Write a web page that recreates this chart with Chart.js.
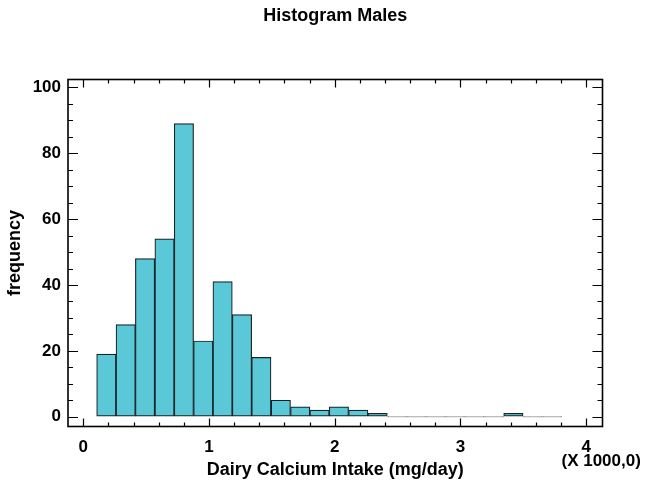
<!DOCTYPE html>
<html>
<head>
<meta charset="utf-8">
<script src="https://cdn.jsdelivr.net/npm/chart.js@4/dist/chart.umd.min.js"></script>
<style>
  html, body { margin: 0; padding: 0; background: #ffffff; }
  #wrap { position: relative; width: 647px; height: 486px; }
</style>
</head>
<body>
<div id="wrap"><canvas id="c"></canvas></div>
<script>
// ---- data ----
const binCenters = [0.183, 0.337, 0.491, 0.646, 0.800, 0.954, 1.108, 1.262, 1.416, 1.571, 1.725, 1.879,
                    2.033, 2.187, 2.341, 2.496, 2.650, 2.804, 2.958, 3.112, 3.266, 3.421, 3.575, 3.729];
const frequencies = [19, 28, 48, 54, 89, 23, 41, 31, 18, 5, 3, 2,
                     3, 2, 1, 0, 0, 0, 0, 0, 0, 1, 0, 0];
const xTickValues = [0, 1, 2, 3, 4];
const yTickValues = [0, 20, 40, 60, 80, 100];
const xMinorStep = 0.2;
const yMinorStep = 5;

const titleText = 'Histogram Males';
const xTitle = 'Dairy Calcium Intake (mg/day)';
const yTitle = 'frequency';
const xScaleNote = '(X 1000,0)';

const FONT = "'Liberation Sans', Arial, Helvetica, sans-serif";

const frame = {
  id: 'frame',
  afterDatasetsDraw(chart) {
    const { ctx, chartArea: a, scales: { x, y } } = chart;
    ctx.save();
    ctx.strokeStyle = '#000';
    ctx.lineWidth = 1.2;
    ctx.beginPath();
    for (let v = 0; v <= 4.0001; v += xMinorStep) {
      const r = Math.round(v * 10) / 10;
      const major = Math.abs(r - Math.round(r)) < 1e-6;
      const len = major ? 8 : 4;
      const px = Math.round(x.getPixelForValue(r)) + 0.5;
      ctx.moveTo(px, a.bottom); ctx.lineTo(px, a.bottom - len);
      ctx.moveTo(px, a.top); ctx.lineTo(px, a.top + len);
    }
    for (let v = 0; v <= 100; v += yMinorStep) {
      const major = v % 20 === 0;
      const len = major ? 10 : 5;
      const py = Math.round(y.getPixelForValue(v)) + 0.5;
      ctx.moveTo(a.left, py); ctx.lineTo(a.left + len, py);
      ctx.moveTo(a.right, py); ctx.lineTo(a.right - len, py);
    }
    ctx.stroke();
    ctx.lineWidth = 1.6;
    ctx.strokeRect(a.left, a.top, a.right - a.left, a.bottom - a.top);
    ctx.fillStyle = '#000';
    ctx.font = "bold 17px " + FONT;
    ctx.textAlign = 'center';
    ctx.textBaseline = 'middle';
    ctx.fillText(xScaleNote, x.getPixelForValue(4) + 15, 461);
    ctx.restore();
  }
};

new Chart(document.getElementById('c'), {
  type: 'bar',
  data: {
    datasets: [{
      data: binCenters.map((c, i) => ({ x: c, y: frequencies[i] })),
      backgroundColor: (c) => (c.raw && c.raw.y === 0 ? '#a8a8a8' : '#5bc8d7'),
      borderColor: (c) => (c.raw && c.raw.y === 0 ? '#a8a8a8' : '#1a2426'),
      borderWidth: 1.2,
      borderSkipped: false,
      minBarLength: 1,
      barPercentage: 1.0,
      categoryPercentage: 1.0
    }]
  },
  options: {
    responsive: true,
    maintainAspectRatio: false,
    animation: false,
    layout: { padding: { left: 0, right: 44.5, top: 0, bottom: 0 } },
    plugins: {
      legend: { display: false },
      tooltip: { enabled: false },
      title: {
        display: true,
        text: titleText,
        fullSize: false,
        color: '#000',
        font: { family: FONT, size: 18, weight: 'bold', lineHeight: 1.2 },
        padding: { top: 5.2, bottom: 52.7 }
      }
    },
    scales: {
      x: {
        type: 'linear',
        min: -0.122,
        max: 4.13,
        offset: false,
        afterBuildTicks: (s) => { s.ticks = xTickValues.map(v => ({ value: v })); },
        afterFit: (s) => { s.height = 59.5; },
        grid: { drawOnChartArea: false, drawTicks: true, tickLength: 7, tickColor: 'rgba(0,0,0,0)' },
        border: { display: false },
        ticks: {
          color: '#000', padding: 3.3, autoSkip: false, maxRotation: 0,
          font: { family: FONT, size: 17, weight: 'bold', lineHeight: 1.2 },
          callback: (v) => String(v)
        },
        title: {
          display: true, text: xTitle, color: '#000',
          font: { family: FONT, size: 18, weight: 'bold', lineHeight: 1.2 },
          padding: { top: 0, bottom: 4.7 }
        }
      },
      y: {
        min: -2.97,
        max: 102.4,
        afterBuildTicks: (s) => { s.ticks = yTickValues.map(v => ({ value: v })); },
        afterFit: (s) => { s.width = 68; },
        grid: { drawOnChartArea: false, drawTicks: true, tickLength: 4, tickColor: 'rgba(0,0,0,0)' },
        border: { display: false },
        ticks: {
          color: '#000', padding: 3, autoSkip: false,
          font: { family: FONT, size: 17, weight: 'bold', lineHeight: 1.2 },
          callback: (v) => String(v)
        },
        title: {
          display: true, text: yTitle, color: '#000',
          font: { family: FONT, size: 18, weight: 'bold', lineHeight: 1.2 },
          padding: { top: 4.2, bottom: 0 }
        }
      }
    }
  },
  plugins: [frame]
});
</script>
</body>
</html>
